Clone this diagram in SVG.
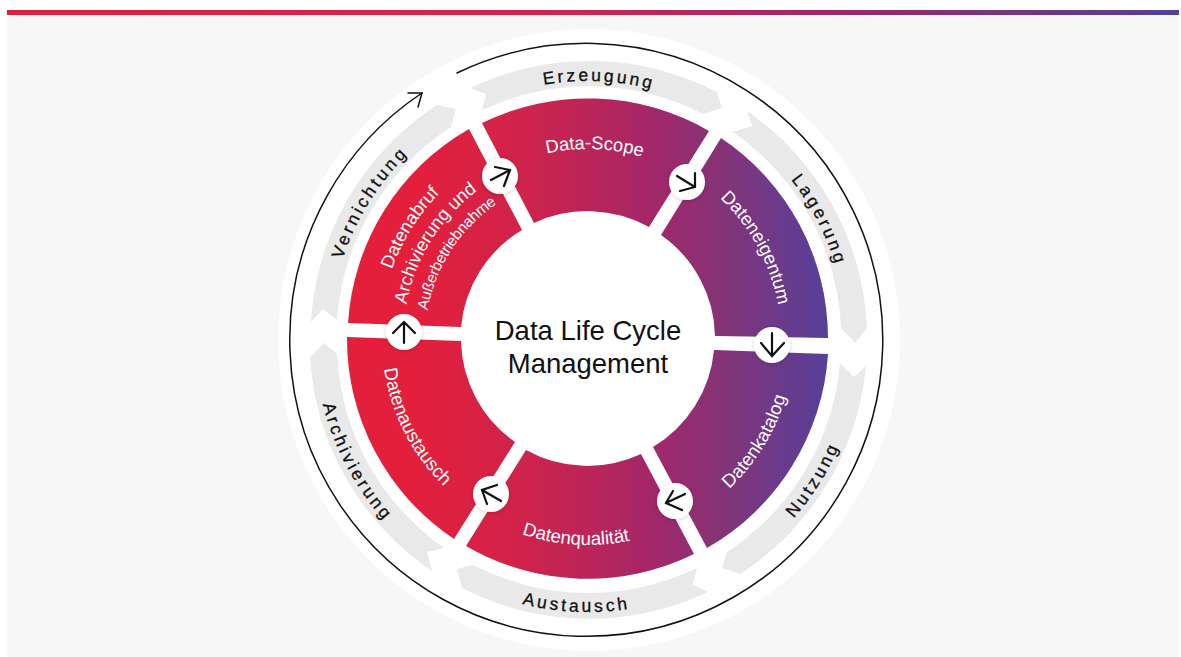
<svg xmlns="http://www.w3.org/2000/svg" width="1181" height="657" viewBox="0 0 1181 657">
<style>
.seg{fill:url(#ring)}
.band{fill:#e9e9e9}
.ol{font:17.5px "Liberation Sans",Arial,sans-serif;fill:#111;stroke:#111;stroke-width:.3px;letter-spacing:3.1px;text-anchor:middle}
.il{font:18.600px "Liberation Sans",Arial,sans-serif;fill:#fff;text-anchor:middle}
.ar{fill:none;stroke:#111;stroke-width:2.2;stroke-linecap:round;stroke-linejoin:miter}
.badge{fill:#fff;filter:url(#sh)}
.ct{font:27.500px "Liberation Sans",Arial,sans-serif;fill:#111;text-anchor:middle}
</style>
<defs>
<linearGradient id="bar" x1="0" x2="1" y1="0" y2="0"><stop offset="0" stop-color="#e31e3c"/><stop offset=".45" stop-color="#d8224a"/><stop offset=".72" stop-color="#98286c"/><stop offset="1" stop-color="#55409a"/></linearGradient>
<linearGradient id="ring" gradientUnits="userSpaceOnUse" x1="347" x2="829" y1="0" y2="0"><stop offset=".15" stop-color="#e31f3c"/><stop offset=".36" stop-color="#d0234b"/><stop offset=".5" stop-color="#bb2559"/><stop offset=".63" stop-color="#a32769"/><stop offset=".77" stop-color="#863376"/><stop offset="1" stop-color="#55409a"/></linearGradient>
<filter id="sh" x="-30%" y="-30%" width="160%" height="160%"><feDropShadow dx="0" dy="1" stdDeviation="2" flood-color="#000" flood-opacity=".18"/></filter>
<path id="c258" d="M345.56 250.76A258 258 0 0 1 830.44 250.76"/>
<path id="c190" d="M409.46 274.02A190 190 0 0 1 766.54 274.02"/>
<path id="c193" d="M406.64 272.99A193 193 0 0 1 769.36 272.99"/>
<path id="c208" d="M392.54 267.86A208 208 0 0 1 783.46 267.86"/>
<path id="c185" d="M414.16 275.73A185 185 0 0 1 761.84 275.73"/>
<path id="c163" d="M434.83 283.25A163 163 0 0 1 741.17 283.25"/>
<path id="b273" d="M331.46 432.37A273 273 0 0 0 844.54 432.37"/>
<path id="b206" d="M394.42 409.45A206 206 0 0 0 781.58 409.45"/>
</defs>
<rect width="1181" height="657" fill="#fff"/>
<rect x="7" y="15" width="1172" height="642" fill="#f7f7f7"/>
<rect x="7" y="10" width="1172" height="5" fill="url(#bar)"/>
<circle cx="589" cy="340" r="311" fill="#fff"/>

<g id="connectors">
<path class="ar" style="stroke-width:1.5" d="M457 73A296.5 296.5 0 1 1 422 93"/>
<path class="ar" style="stroke-width:1.5" d="M408 93L422 93L418 107"/>
</g>

<g id="stage-erzeugung"><path class="band" d="M470 88A278 278 0 0 1 717 92L722 108L703 114A251 251 0 0 0 482 110L486 94Z"/><text class="ol" style="letter-spacing:2.9px" transform="rotate(2.4 588 339)"><textPath href="#c258" startOffset="50%">Erzeugung</textPath></text></g>
<g id="stage-lagerung"><path class="band" d="M747 111A278 278 0 0 1 867 328L855 343L841 328A251 251 0 0 0 733 132L752 126Z"/><text class="ol" transform="rotate(62.8 588 339)"><textPath href="#c258" startOffset="50%">Lagerung</textPath></text></g>
<g id="stage-nutzung"><path class="band" d="M866 366A278 278 0 0 1 740 574L722 568L727 552A251 251 0 0 0 840 363L854 377Z"/><text class="ol" transform="rotate(-58 588 339)"><textPath href="#b273" startOffset="50%">Nutzung</textPath></text></g>
<g id="stage-austausch"><path class="band" d="M708 592A278 278 0 0 1 462 588L457 569L473 565A251 251 0 0 0 697 568L693 585Z"/><text class="ol" transform="rotate(2.5 588 339)"><textPath href="#b273" startOffset="50%">Austausch</textPath></text></g>
<g id="stage-archivierung"><path class="band" d="M432 571A278 278 0 0 1 310 357L324 343L337 354A251 251 0 0 0 444 548L427 552Z"/><text class="ol" transform="rotate(62 588 339)"><textPath href="#b273" startOffset="50%">Archivierung</textPath></text></g>
<g id="stage-vernichtung"><path class="band" d="M311 322A278 278 0 0 1 437 105L456 109L451 127A251 251 0 0 0 337 320L323 309Z"/><text class="ol" transform="rotate(-58 588 339)"><textPath href="#c258" startOffset="50%">Vernichtung</textPath></text></g>

<g id="seg-data-scope"><path class="seg" d="M482 123A241 241 0 0 1 709 131L649 227A126.500 126.500 0 0 0 534 223Z"/><text class="il" style="font-size:18.300px" transform="rotate(2 588 339)"><textPath href="#c190" startOffset="50%">Data-Scope</textPath></text></g>
<g id="seg-dateneigentum"><path class="seg" d="M721 138A241 241 0 0 1 828 338L715 336A126.500 126.500 0 0 0 661 235Z"/><text class="il" style="font-size:18.300px" transform="rotate(61.5 588 339)"><textPath href="#c193" startOffset="50%">Dateneigentum</textPath></text></g>
<g id="seg-datenkatalog"><path class="seg" d="M828 354A241 241 0 0 1 707 548L653 447A126.500 126.500 0 0 0 714 350Z"/><text class="il" transform="rotate(-58.500 588 339)"><textPath href="#b206" startOffset="50%">Datenkatalog</textPath></text></g>
<g id="seg-datenqualitaet"><path class="seg" d="M694 554A241 241 0 0 1 466 546L526 450A126.500 126.500 0 0 0 641 454Z"/><text class="il" transform="rotate(3.500 588 339)"><textPath href="#b206" startOffset="50%">Datenqualität</textPath></text></g>
<g id="seg-datenaustausch"><path class="seg" d="M454 539A241 241 0 0 1 347 337L461 341A126.500 126.500 0 0 0 515 442Z"/><text class="il" transform="rotate(63 588 339)"><textPath href="#b206" startOffset="50%">Datenaustausch</textPath></text></g>
<g id="seg-datenabruf"><path class="seg" d="M348 323A241 241 0 0 1 469 129L522 230A126.500 126.500 0 0 0 461 327Z"/>
<text class="il" style="font-size:18.300px" transform="rotate(-58 588 339)"><textPath href="#c208" startOffset="50%">Datenabruf</textPath></text>
<text class="il" style="font-size:18.300px" transform="rotate(-58 588 339)"><textPath href="#c185" startOffset="50%">Archivierung und</textPath></text>
<text class="il" style="font-size:15.300px;letter-spacing:-.3px" transform="rotate(-57 588 339)"><textPath href="#c163" startOffset="50%">Außerbetriebnahme</textPath></text></g>

<g id="center"><text class="ct" x="588" y="340">Data Life Cycle</text><text class="ct" x="588" y="373">Management</text></g>

<g id="step-1"><circle class="badge" cx="500" cy="176" r="18"/><path class="ar" d="M491 180L510 170M495 167L510 170L504 186"/></g>
<g id="step-2"><circle class="badge" cx="687" cy="182" r="18"/><path class="ar" d="M677 176L695 187M695 173L695 187L680 191"/></g>
<g id="step-3"><circle class="badge" cx="772" cy="345" r="18"/><path class="ar" d="M772 333L772 356M761 343L772 356L784 343"/></g>
<g id="step-4"><circle class="badge" cx="675" cy="501" r="18"/><path class="ar" d="M685 494L666 503M673 491L666 503L682 510"/></g>
<g id="step-5"><circle class="badge" cx="491" cy="494" r="18"/><path class="ar" d="M501 501L482 490M497 485L482 490L487 504"/></g>
<g id="step-6"><circle class="badge" cx="404" cy="332" r="18"/><path class="ar" d="M404 343L404 322M393 333L404 322L415 333"/></g>
</svg>
